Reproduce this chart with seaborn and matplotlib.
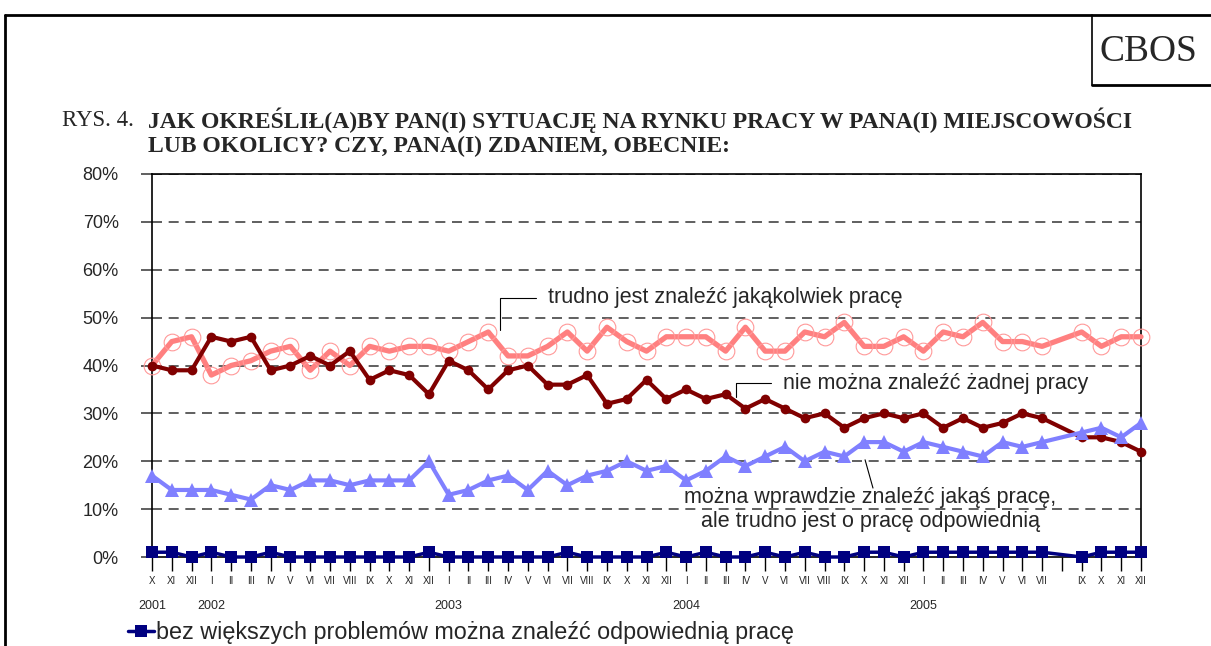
import numpy as np
import pandas as pd
import matplotlib
matplotlib.use("Agg")
import matplotlib.pyplot as plt
from matplotlib.lines import Line2D
import matplotlib.transforms as mtransforms
import seaborn as sns

# ---------------- data ----------------
months = ["X", "XI", "XII",
          "I", "II", "III", "IV", "V", "VI", "VII", "VIII", "IX", "X", "XI", "XII",
          "I", "II", "III", "IV", "V", "VI", "VII", "VIII", "IX", "X", "XI", "XII",
          "I", "II", "III", "IV", "V", "VI", "VII", "VIII", "IX", "X", "XI", "XII",
          "I", "II", "III", "IV", "V", "VI", "VII", "", "IX", "X", "XI", "XII"]
years = {0: "2001", 3: "2002", 15: "2003", 27: "2004", 39: "2005"}

trudno_jakakolwiek = [40, 45, 46, 38, 40, 41, 43, 44, 39, 43, 40, 44, 43, 44, 44,
                      43, 45, 47, 42, 42, 44, 47, 43, 48, 45, 43, 46,
                      46, 46, 43, 48, 43, 43, 47, 46, 49, 44, 44, 46,
                      43, 47, 46, 49, 45, 45, 44, None, 47, 44, 46, 46]
nie_zadnej = [40, 39, 39, 46, 45, 46, 39, 40, 42, 40, 43, 37, 39, 38, 34,
              41, 39, 35, 39, 40, 36, 36, 38, 32, 33, 37, 33,
              35, 33, 34, 31, 33, 31, 29, 30, 27, 29, 30, 29,
              30, 27, 29, 27, 28, 30, 29, None, 25, 25, 24, 22]
wprawdzie_jakas = [17, 14, 14, 14, 13, 12, 15, 14, 16, 16, 15, 16, 16, 16, 20,
                   13, 14, 16, 17, 14, 18, 15, 17, 18, 20, 18, 19,
                   16, 18, 21, 19, 21, 23, 20, 22, 21, 24, 24, 22,
                   24, 23, 22, 21, 24, 23, 24, None, 26, 27, 25, 28]
bez_problemow = [1, 1, 0, 1, 0, 0, 1, 0, 0, 0, 0, 0, 0, 0, 1,
                 0, 0, 0, 0, 0, 0, 1, 0, 0, 0, 0, 1,
                 0, 1, 0, 0, 1, 0, 1, 0, 0, 1, 1, 0,
                 1, 1, 1, 1, 1, 1, 1, None, 0, 1, 1, 1]

yticks = [0, 10, 20, 30, 40, 50, 60, 70, 80]

# ---------------- style ----------------
sns.set_theme(style="white")
plt.rcParams["font.family"] = ["Liberation Sans", "DejaVu Sans"]

W, H = 1211, 646
fig = plt.figure(figsize=(W / 100, H / 100), dpi=100)
ax = fig.add_axes([152 / W, (H - 557) / H, (1141 - 152) / W, (557 - 174) / H])

pos = np.arange(len(months))
df = pd.DataFrame({"pos": pos,
                   "a": pd.to_numeric(pd.Series(trudno_jakakolwiek), errors="coerce"),
                   "b": pd.to_numeric(pd.Series(nie_zadnej), errors="coerce"),
                   "c": pd.to_numeric(pd.Series(wprawdzie_jakas), errors="coerce"),
                   "d": pd.to_numeric(pd.Series(bez_problemow), errors="coerce")})

for v in yticks[1:]:
    ax.axhline(v, color="#444444", lw=1.2, ls=(0, (6, 4)), zorder=0)

sns.lineplot(data=df.dropna(subset=["a"]), x="pos", y="a", ax=ax, color="#FF8080",
             lw=3.8, marker="o", markersize=12, markerfacecolor="none",
             markeredgecolor="#FF9999", markeredgewidth=0.8, clip_on=False, zorder=3)
sns.lineplot(data=df.dropna(subset=["b"]), x="pos", y="b", ax=ax, color="#800000",
             lw=3, marker="o", markersize=7, markeredgewidth=0, clip_on=False, zorder=4)
sns.lineplot(data=df.dropna(subset=["c"]), x="pos", y="c", ax=ax, color="#8080FF",
             lw=3, marker="^", markersize=10, markeredgewidth=0, clip_on=False, zorder=4)
sns.lineplot(data=df.dropna(subset=["d"]), x="pos", y="d", ax=ax, color="#000080",
             lw=2.5, marker="s", markersize=9, markeredgewidth=0, clip_on=False, zorder=5,
             label="bez większych problemów można znaleźć odpowiednią pracę")

ax.set_xlim(0, len(months) - 1)
ax.set_ylim(0, 80)
ax.set_yticks(yticks)
ax.set_yticklabels([f"{v}%" for v in yticks], fontsize=13)
ax.set_xticks(pos)
ax.set_xticklabels(months, fontsize=7)
ax.tick_params(axis="x", length=10, width=1, color="black", pad=4, direction="out", bottom=True)
ax.tick_params(axis="y", length=8, width=1.2, color="#444444", pad=16, direction="out", left=True)
ax.set_xlabel("")
ax.set_ylabel("")
for s in ax.spines.values():
    s.set_color("black")
    s.set_linewidth(1.2)

trans = mtransforms.blended_transform_factory(ax.transData, ax.transAxes)
for i, y in years.items():
    ax.text(i, -0.113, y, transform=trans, ha="center", va="top", fontsize=9)

# annotations
ax.annotate("trudno jest znaleźć jakąkolwiek pracę", xy=(17.6, 47.4), xytext=(20.0, 54.2),
            fontsize=15.5, va="center", ha="left",
            arrowprops=dict(arrowstyle="-", color="black", lw=0.8, shrinkA=6, shrinkB=0,
                            connectionstyle="angle,angleA=0,angleB=90,rad=0"))
ax.annotate("nie można znaleźć żadnej pracy", xy=(29.5, 33.4), xytext=(31.9, 36.3),
            fontsize=15.5, va="center", ha="left",
            arrowprops=dict(arrowstyle="-", color="black", lw=0.8, shrinkA=6, shrinkB=0,
                            connectionstyle="angle,angleA=0,angleB=90,rad=0"))
ax.text(36.3, 9.9, "można wprawdzie znaleźć jakąś pracę,\nale trudno jest o pracę odpowiednią",
        fontsize=15.5, va="center", ha="center", linespacing=1.17)
ax.annotate("", xy=(36.05, 20.3), xytext=(36.45, 14.4),
            arrowprops=dict(arrowstyle="-", color="black", lw=0.8, shrinkA=0, shrinkB=0))

leg = ax.legend(loc="lower left", bbox_to_anchor=(128 / W, 2 / H), bbox_transform=fig.transFigure,
                frameon=False, fontsize=16.8, handlelength=1.1, handletextpad=0.1,
                borderpad=0, borderaxespad=0)

# titles
fig.text(62 / W, 1 - 120 / H, "RYS. 4.", fontsize=16.5, family="Liberation Serif", va="center")
fig.text(148 / W, 1 - 120 / H,
         "JAK OKREŚLIŁ(A)BY PAN(I) SYTUACJĘ NA RYNKU PRACY W PANA(I) MIEJSCOWOŚCI",
         fontsize=17, family="Liberation Serif", weight="bold", va="center")
fig.text(148 / W, 1 - 146 / H, "LUB OKOLICY? CZY, PANA(I) ZDANIEM, OBECNIE:",
         fontsize=17, family="Liberation Serif", weight="bold", va="center")
fig.text(1148 / W, 1 - 52 / H, "CBOS", fontsize=27, family="Liberation Serif",
         ha="center", va="center")

# page frame
lw = 2
fig.add_artist(Line2D([5 / W, 1], [1 - 15 / H, 1 - 15 / H], color="black", lw=lw, transform=fig.transFigure))
fig.add_artist(Line2D([5 / W, 5 / W], [0, 1 - 15 / H], color="black", lw=lw, transform=fig.transFigure))
fig.add_artist(Line2D([1092 / W, 1092 / W], [1 - 15 / H, 1 - 85 / H], color="black", lw=1.2, transform=fig.transFigure))
fig.add_artist(Line2D([1092 / W, 1], [1 - 85 / H, 1 - 85 / H], color="black", lw=lw, transform=fig.transFigure))

fig.savefig("out.png", dpi=100)
